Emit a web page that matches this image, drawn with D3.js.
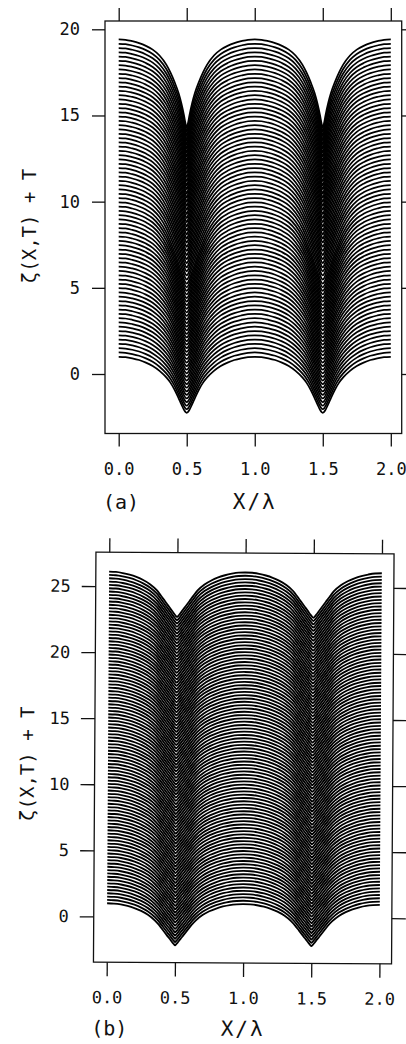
<!DOCTYPE html>
<html>
<head>
<meta charset="utf-8">
<script src="https://cdn.jsdelivr.net/npm/d3@7/dist/d3.min.js"></script>
<style>
  html, body { margin: 0; padding: 0; background: #ffffff; }
  svg { display: block; }
</style>
</head>
<body>
<svg id="chart" width="406" height="1044"></svg>
<script>
// ---------- data ----------
// X/λ sample positions over half a wavelength: crest at 0, trough at 0.5
const halfX = [0, 0.05, 0.1, 0.15, 0.2, 0.25, 0.3, 0.35, 0.38, 0.41, 0.44, 0.46, 0.48, 0.49, 0.5];

// (a) elevation ζ at the sample positions, at a few time levels
const keyTimesA = [0, 9, 18.5];
const zetaA_T0  = [1.00, 0.98, 0.91, 0.81, 0.66, 0.46, 0.18, -0.20, -0.50, -0.90, -1.40, -1.75, -2.08, -2.20, -2.25];
const zetaA_T9  = [0.96, 0.94, 0.85, 0.72, 0.54, 0.28, -0.15, -0.80, -1.32, -1.92, -2.60, -3.05, -3.50, -3.68, -3.76];
const zetaA_T18 = [0.91, 0.89, 0.81, 0.70, 0.54, 0.32, -0.02, -0.55, -1.00, -1.55, -2.20, -2.78, -3.50, -3.92, -4.23];
const tStartA = 0, tEndA = 18.5, tStepA = 0.25;

// (b) elevation ζ at the sample positions, first and last time level
const keyTimesB = [0, 25];
const zetaB_T0  = [1.00, 0.98, 0.92, 0.81, 0.65, 0.44, 0.15, -0.27, -0.60, -1.00, -1.40, -1.66, -1.93, -2.05, -2.15];
const zetaB_T25 = [1.10, 1.08, 1.00, 0.88, 0.71, 0.48, 0.17, -0.28, -0.68, -1.10, -1.52, -1.80, -2.08, -2.21, -2.30];
const tStartB = 0, tEndB = 25, tStepB = 0.25;

// axis ticks and labels
const xTicks  = [0, 0.5, 1, 1.5, 2];
const yTicksA = [0, 5, 10, 15, 20];
const yTicksB = [0, 5, 10, 15, 20, 25];
const xTitle = "X/λ";
const yTitle = "ζ(X,T) + T";
const panelTags = ["(a)", "(b)"];

// ---------- helpers ----------
// one wavelength is symmetric about its trough; two wavelengths span X/λ = 0..2
function fullProfile(halfVals) {
  const pts = [];
  for (let k = 0; k < 2; k++) {
    halfX.forEach((x, i) => { if (!(k > 0 && i === 0)) pts.push([k + x, halfVals[i]]); });
    for (let i = halfX.length - 2; i >= 0; i--) pts.push([k + 1 - halfX[i], halfVals[i]]);
  }
  return pts;
}

// profile at time t, blended between the bracketing stored time levels
function profileAt(keyTimes, keyProfiles, t) {
  let j = 0;
  while (j < keyTimes.length - 2 && t > keyTimes[j + 1]) j++;
  const w = (t - keyTimes[j]) / (keyTimes[j + 1] - keyTimes[j]);
  return keyProfiles[j].map((v, i) => v + (keyProfiles[j + 1][i] - v) * w);
}

const FONT = "'DejaVu Sans Mono', 'Liberation Mono', monospace";
const INK = "#111";

const svg = d3.select("#chart");

function drawPanel(cfg) {
  const g = svg.append("g").attr("transform", cfg.transform || null);
  const x = d3.scaleLinear().domain([0, 2]).range(cfg.xRange);
  const y = d3.scaleLinear().domain(cfg.yDomain).range(cfg.yRange);
  const f = cfg.frame;

  // stacked profiles ζ(X,T) + T
  const times = d3.range(cfg.tStart, cfg.tEnd + cfg.tStep / 2, cfg.tStep);
  const curves = times.map(t => ({ t, pts: fullProfile(profileAt(cfg.keyTimes, cfg.keyProfiles, t)) }));
  const line = d3.line()
    .x(d => x(d[0]))
    .y(d => y(d[1]))
    .curve(d3.curveMonotoneX);
  g.append("g")
    .selectAll("path")
    .data(curves)
    .join("path")
    .attr("d", c => line(c.pts.map(p => [p[0], p[1] + c.t])))
    .attr("fill", "none")
    .attr("stroke", "#000")
    .attr("stroke-width", cfg.lineWidth)
    .attr("stroke-linejoin", "round");

  // frame
  g.append("rect")
    .attr("x", f.left).attr("y", f.top)
    .attr("width", f.right - f.left).attr("height", f.bottom - f.top)
    .attr("fill", "none").attr("stroke", INK).attr("stroke-width", 1.3);

  const styleAxis = sel => {
    sel.select(".domain").remove();
    sel.selectAll(".tick line").attr("stroke", INK).attr("stroke-width", 1.3);
    sel.selectAll(".tick text")
      .attr("fill", INK)
      .attr("font-family", FONT)
      .attr("font-size", 17);
  };

  // bottom axis with labels
  g.append("g")
    .attr("transform", `translate(0,${f.bottom})`)
    .call(d3.axisBottom(x).tickValues(xTicks).tickFormat(d3.format(".1f"))
      .tickSize(cfg.tick).tickPadding(cfg.xPad))
    .call(styleAxis);
  // top axis ticks
  g.append("g")
    .attr("transform", `translate(0,${f.top})`)
    .call(d3.axisTop(x).tickValues(xTicks).tickFormat("").tickSize(cfg.tick))
    .call(styleAxis);
  // left axis with labels
  g.append("g")
    .attr("transform", `translate(${f.left},0)`)
    .call(d3.axisLeft(y).tickValues(cfg.yTicks).tickFormat(d3.format("d"))
      .tickSize(cfg.tick).tickPadding(cfg.yPad))
    .call(styleAxis);
  // right axis ticks
  g.append("g")
    .attr("transform", `translate(${f.right},0)`)
    .call(d3.axisRight(y).tickValues(cfg.yTicks).tickFormat("").tickSize(cfg.tick))
    .call(styleAxis);

  // titles
  g.append("text")
    .attr("x", x(1)).attr("y", cfg.titleY)
    .attr("text-anchor", "middle")
    .attr("font-family", FONT).attr("font-size", 21)
    .attr("letter-spacing", 2)
    .attr("fill", INK)
    .text(xTitle);
  g.append("text")
    .attr("x", cfg.tagX).attr("y", cfg.titleY)
    .attr("text-anchor", "middle")
    .attr("font-family", FONT).attr("font-size", 20)
    .attr("fill", INK)
    .text(cfg.tag);
  g.append("text")
    .attr("transform", `translate(${cfg.yTitleX},${cfg.yTitleY}) rotate(-90)`)
    .attr("text-anchor", "middle")
    .attr("font-family", FONT).attr("font-size", 19)
    .attr("fill", INK)
    .text(yTitle);
}

drawPanel({
  tag: panelTags[0],
  keyTimes: keyTimesA, keyProfiles: [zetaA_T0, zetaA_T9, zetaA_T18],
  tStart: tStartA, tEnd: tEndA, tStep: tStepA,
  yTicks: yTicksA,
  xRange: [118.7, 390.8],
  yDomain: [0, 20], yRange: [374, 29.3],
  frame: { left: 105, right: 401.7, top: 21, bottom: 433.5 },
  tick: 13, xPad: 16, yPad: 12,
  lineWidth: 1.75,
  titleY: 509, tagX: 121,
  yTitleX: 36, yTitleY: 226
});

drawPanel({
  tag: panelTags[1],
  keyTimes: keyTimesB, keyProfiles: [zetaB_T0, zetaB_T25],
  tStart: tStartB, tEnd: tEndB, tStep: tStepB,
  yTicks: yTicksB,
  xRange: [108, 380.7],
  yDomain: [0, 25], yRange: [917.3, 587],
  frame: { left: 94.7, right: 392.8, top: 553, bottom: 963 },
  tick: 14, xPad: 15, yPad: 11,
  lineWidth: 1.85,
  titleY: 1036, tagX: 111,
  yTitleX: 34, yTitleY: 765,
  transform: "rotate(0.35,245,758)"
});
</script>
</body>
</html>
